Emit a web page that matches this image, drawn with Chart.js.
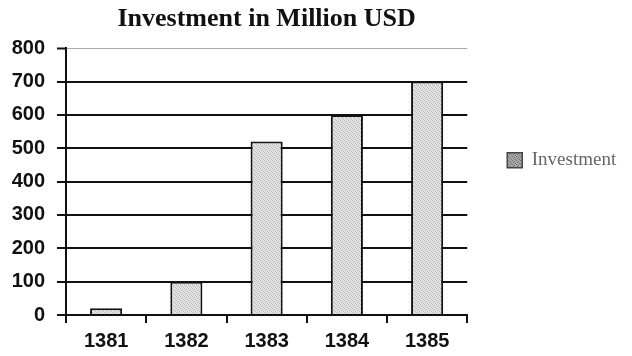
<!DOCTYPE html>
<html>
<head>
<meta charset="utf-8">
<script src="https://cdn.jsdelivr.net/npm/chart.js@4.4.1/dist/chart.umd.min.js"></script>
<style>
    html, body { margin: 0; padding: 0; background: #fff; }
    #wrap { width: 632px; height: 356px; }
</style>
</head>
<body>
<div id="wrap"><canvas id="invest-chart" width="632" height="356"></canvas></div>
<script>
const years = ["1381", "1382", "1383", "1384", "1385"];
const investment = [20, 100, 520, 600, 700];
const yTicks = [0, 100, 200, 300, 400, 500, 600, 700, 800];

// stippled gray fill like an old print pattern
function makeStipple(base, dark) {
    const c = document.createElement("canvas");
    c.width = 4;
    c.height = 4;
    const g = c.getContext("2d");
    g.fillStyle = base;
    g.fillRect(0, 0, 4, 4);
    g.fillStyle = dark;
    [[0, 0], [2, 1], [1, 2], [3, 3]].forEach(p => g.fillRect(p[0], p[1], 1, 1));
    return g.createPattern(c, "repeat");
}

const ctx = document.getElementById("invest-chart").getContext("2d");
const barFill = makeStipple("#e2e2e2", "#b8b8b8");
const swatchFill = makeStipple("#a8a8a8", "#6e6e6e");

new Chart(ctx, {
    type: 'bar',
    data: {
        labels: years,
        datasets: [{
            label: 'Investment',
            data: investment,
            backgroundColor: barFill,
            borderColor: '#111',
            borderWidth: 2,
            borderSkipped: 'bottom',
            barPercentage: 0.5,
            categoryPercentage: 0.8
        }]
    },
    options: {
        responsive: false,
        animation: false,
        layout: { padding: { top: 0, right: 9, bottom: 4, left: 0 } },
        plugins: {
            title: {
                display: true,
                fullSize: false,
                text: 'Investment in Million USD',
                color: '#111',
                font: { family: 'Liberation Serif', size: 26, weight: 'bold' },
                padding: { top: 4, bottom: 13 }
            },
            legend: {
                position: 'right',
                align: 'start',
                title: {
                    display: true,
                    text: ' ',
                    font: { size: 19 },
                    padding: { top: 0, bottom: 88 }
                },
                labels: {
                    color: '#222',
                    font: { family: 'Liberation Serif', size: 19 },
                    boxWidth: 15,
                    boxHeight: 15,
                    padding: 40,
                    generateLabels: chart => [{
                        text: 'Investment',
                        fillStyle: swatchFill,
                        strokeStyle: '#444',
                        lineWidth: 1.5,
                        datasetIndex: 0
                    }]
                }
            },
            tooltip: { enabled: false }
        },
        scales: {
            x: {
                grid: {
                    offset: true,
                    drawOnChartArea: true,
                    drawTicks: true,
                    tickLength: 8,
                    // only the right edge of the plot gets a faint frame line
                    color: c => c.index === years.length ? '#aaa' : 'rgba(0,0,0,0)',
                    lineWidth: c => c.index === years.length ? 1 : 2,
                    tickColor: '#111',
                    tickWidth: 2
                },
                border: { color: '#111', width: 2 },
                ticks: {
                    color: '#111',
                    padding: 6,
                    font: { family: 'Liberation Sans', size: 20, weight: 'bold' }
                },
                afterFit: s => { s.height = 37; }
            },
            y: {
                min: 0,
                max: 800,
                afterBuildTicks: s => { s.ticks = yTicks.map(v => ({ value: v })); },
                grid: {
                    color: c => c.tick && c.tick.value === 800 ? '#aaa' : '#111',
                    lineWidth: c => c.tick && c.tick.value === 800 ? 1 : 2,
                    tickColor: '#111',
                    tickWidth: 2,
                    tickLength: 9
                },
                border: { color: '#111', width: 2 },
                ticks: {
                    color: '#111',
                    padding: 12,
                    font: { family: 'Liberation Sans', size: 20, weight: 'bold' }
                },
                afterFit: s => { s.width = 66; }
            }
        }
    }
});
</script>
</body>
</html>
